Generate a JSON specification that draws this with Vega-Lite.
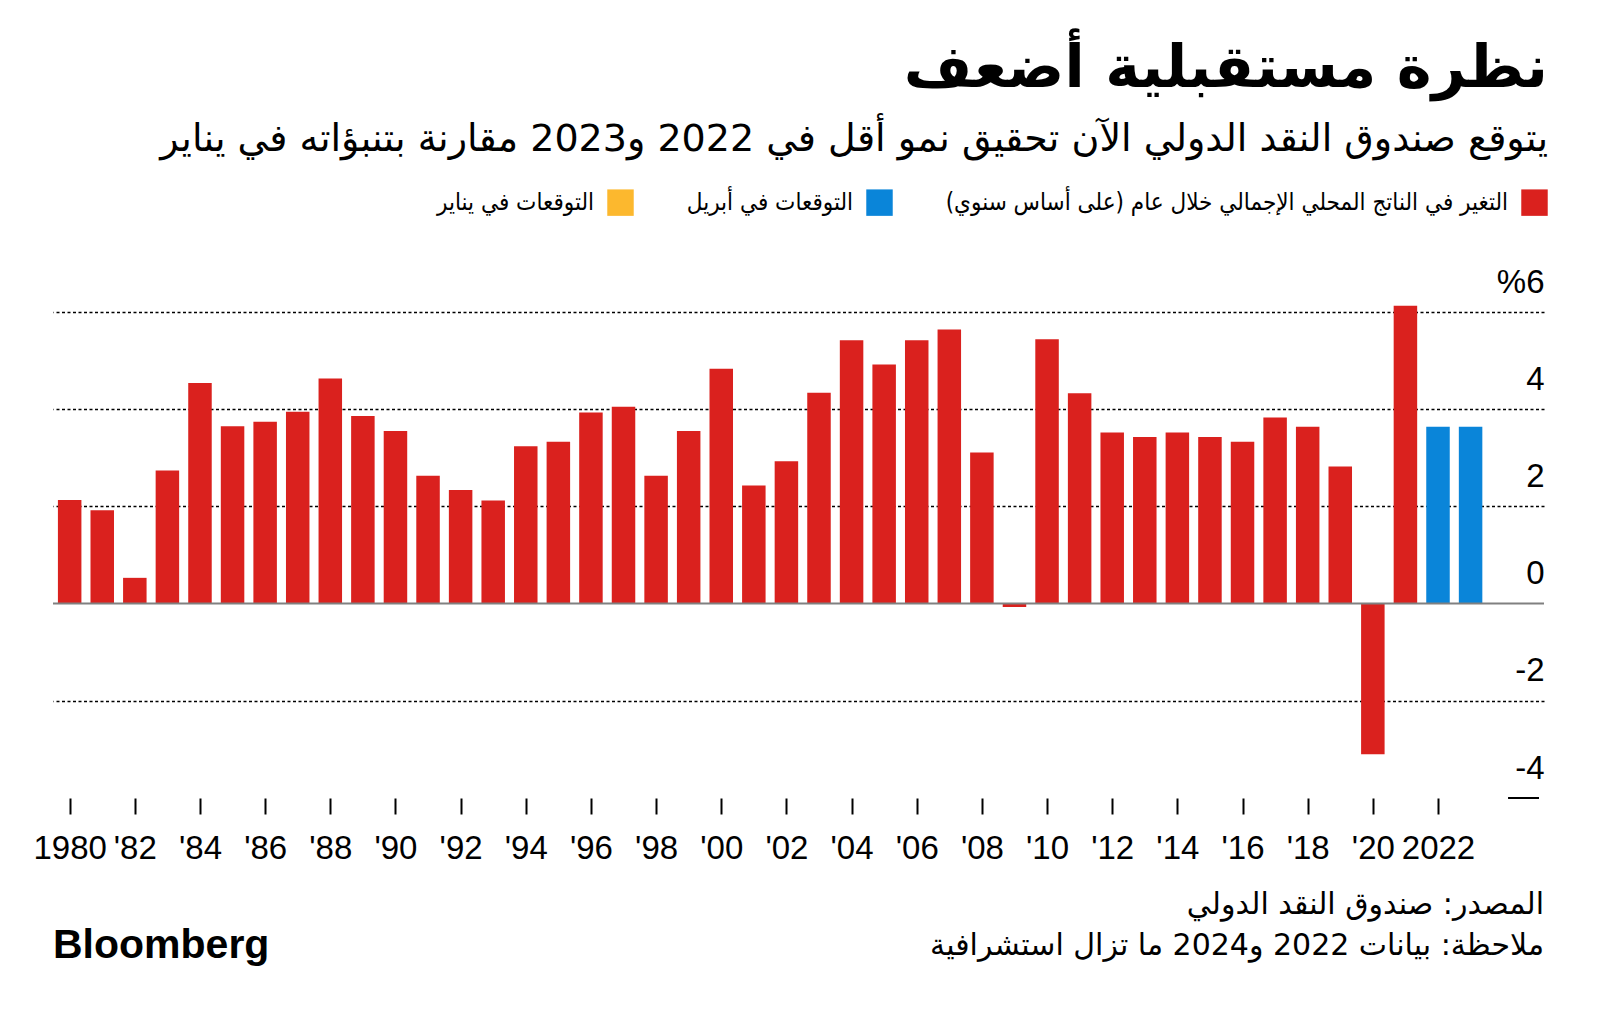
{
  "$schema": "https://vega.github.io/schema/vega-lite/v6.json",
  "background": "white",
  "padding": {"left": 32, "right": 40, "top": 40, "bottom": 10},
  "config": {"view": {"stroke": null}, "font": "Liberation Sans"},
  "title": {
    "text": "‏نظرة مستقبلية أضعف‏",
    "subtitle": "‏يتوقع صندوق النقد الدولي الآن تحقيق نمو أقل في 2022 و2023 مقارنة بتنبؤاته في يناير‏",
    "anchor": "end",
    "font": "DejaVu Sans",
    "fontSize": 59,
    "fontWeight": "bold",
    "color": "#000000",
    "subtitleFont": "DejaVu Sans",
    "subtitleFontSize": 38,
    "subtitleColor": "#000000",
    "subtitlePadding": 22,
    "offset": 30
  },
  "spacing": 25,
  "vconcat": [
    {
      "width": 1491,
      "height": 486,
      "data": {"values": [
        {"year": 1980, "value": 2.13, "s": "gdp"},
        {"year": 1981, "value": 1.92, "s": "gdp"},
        {"year": 1982, "value": 0.53, "s": "gdp"},
        {"year": 1983, "value": 2.74, "s": "gdp"},
        {"year": 1984, "value": 4.54, "s": "gdp"},
        {"year": 1985, "value": 3.65, "s": "gdp"},
        {"year": 1986, "value": 3.74, "s": "gdp"},
        {"year": 1987, "value": 3.95, "s": "gdp"},
        {"year": 1988, "value": 4.63, "s": "gdp"},
        {"year": 1989, "value": 3.86, "s": "gdp"},
        {"year": 1990, "value": 3.55, "s": "gdp"},
        {"year": 1991, "value": 2.63, "s": "gdp"},
        {"year": 1992, "value": 2.34, "s": "gdp"},
        {"year": 1993, "value": 2.12, "s": "gdp"},
        {"year": 1994, "value": 3.24, "s": "gdp"},
        {"year": 1995, "value": 3.33, "s": "gdp"},
        {"year": 1996, "value": 3.93, "s": "gdp"},
        {"year": 1997, "value": 4.05, "s": "gdp"},
        {"year": 1998, "value": 2.63, "s": "gdp"},
        {"year": 1999, "value": 3.55, "s": "gdp"},
        {"year": 2000, "value": 4.83, "s": "gdp"},
        {"year": 2001, "value": 2.43, "s": "gdp"},
        {"year": 2002, "value": 2.93, "s": "gdp"},
        {"year": 2003, "value": 4.34, "s": "gdp"},
        {"year": 2004, "value": 5.42, "s": "gdp"},
        {"year": 2005, "value": 4.92, "s": "gdp"},
        {"year": 2006, "value": 5.42, "s": "gdp"},
        {"year": 2007, "value": 5.64, "s": "gdp"},
        {"year": 2008, "value": 3.11, "s": "gdp"},
        {"year": 2009, "value": -0.07, "s": "gdp"},
        {"year": 2010, "value": 5.44, "s": "gdp"},
        {"year": 2011, "value": 4.33, "s": "gdp"},
        {"year": 2012, "value": 3.52, "s": "gdp"},
        {"year": 2013, "value": 3.43, "s": "gdp"},
        {"year": 2014, "value": 3.52, "s": "gdp"},
        {"year": 2015, "value": 3.43, "s": "gdp"},
        {"year": 2016, "value": 3.33, "s": "gdp"},
        {"year": 2017, "value": 3.83, "s": "gdp"},
        {"year": 2018, "value": 3.64, "s": "gdp"},
        {"year": 2019, "value": 2.82, "s": "gdp"},
        {"year": 2020, "value": -3.1, "s": "gdp"},
        {"year": 2021, "value": 6.13, "s": "gdp"},
        {"year": 2022, "value": 3.64, "s": "apr"},
        {"year": 2023, "value": 3.64, "s": "apr"}
      ]},
      "layer": [
        {
          "mark": {"type": "bar", "size": 23.5},
          "encoding": {
            "x": {
              "field": "year", "type": "quantitative",
              "scale": {"domain": [1979.642, 2025.1], "nice": false, "zero": false},
              "axis": {
                "values": [1980, 1982, 1984, 1986, 1988, 1990, 1992, 1994, 1996, 1998, 2000, 2002, 2004, 2006, 2008, 2010, 2012, 2014, 2016, 2018, 2020, 2022],
                "grid": false, "domain": false, "ticks": true,
                "tickSize": 16, "tickWidth": 2, "tickColor": "#000000",
                "labelFont": "Liberation Sans", "labelFontSize": 33, "labelColor": "#000000",
                "labelPadding": 18, "labelFlush": false, "labelOverlap": false, "labelBound": false,
                "labelExpr": "(datum.value == 1980 || datum.value == 2022) ? format(datum.value, 'd') : \"'\" + slice(format(datum.value, 'd'), 2)",
                "title": null
              }
            },
            "y": {
              "field": "value", "type": "quantitative",
              "scale": {"domain": [-4, 6], "nice": false},
              "axis": {
                "orient": "right",
                "values": [-4, -2, 0, 2, 4, 6],
                "grid": true, "ticks": false, "domain": false,
                "gridColor": "#000000", "gridDash": [3, 2.5], "gridWidth": 1.5,
                "gridOpacity": {"condition": {"test": "datum.value === 0 || datum.value === -4", "value": 0}, "value": 1},
                "labelAlign": "right", "labelPadding": 0, "labelBaseline": "alphabetic", "labelOffset": -20,
                "labelFont": "Liberation Sans", "labelFontSize": 33, "labelColor": "#000000",
                "labelExpr": "datum.value == 6 ? '%6' : '' + datum.value",
                "title": null
              }
            },
            "color": {
              "field": "s", "type": "nominal",
              "scale": {"domain": ["jan", "apr", "gdp"], "range": ["#fcb82e", "#0a85d9", "#da211e"]},
              "legend": {
                "orient": "none", "legendX": 554, "legendY": -123,
                "direction": "horizontal", "columns": 3,
                "title": null,
                "symbolType": "square", "symbolSize": 700, "symbolStrokeWidth": 0, "symbolOpacity": 1,
                "labelFont": "DejaVu Sans Condensed", "labelFontSize": 24, "labelColor": "#000000",
                "labelLimit": 900, "labelAlign": "right", "labelOffset": -40,
                "columnPadding": 52,
                "labelExpr": "datum.value == 'gdp' ? '‏التغير في الناتج المحلي الإجمالي خلال عام (على أساس سنوي)‏' : (datum.value == 'apr' ? '‏التوقعات في أبريل‏' : '‏التوقعات في يناير‏')"
              }
            }
          }
        },
        {
          "mark": {"type": "rule", "color": "#808080", "strokeWidth": 2},
          "data": {"values": [{}]},
          "encoding": {"y": {"datum": 0}}
        },
        {
          "mark": {"type": "rule", "color": "#000000", "strokeWidth": 2},
          "data": {"values": [{}]},
          "encoding": {"y": {"datum": -4}, "x": {"datum": 2024.15}, "x2": {"datum": 2025.1}}
        }
      ]
    },
    {
      "width": 1491,
      "height": 41,
      "data": {"values": [
        {"t": "Bloomberg", "side": "L", "line": "2"},
        {"t": "‏المصدر: صندوق النقد الدولي‏", "side": "R", "line": "1"},
        {"t": "‏ملاحظة: بيانات 2022 و2024 ما تزال استشرافية‏", "side": "R", "line": "2"}
      ]},
      "encoding": {
        "x": {"field": "side", "type": "nominal", "scale": {"type": "point", "domain": ["L", "R"], "padding": 0}, "axis": null},
        "y": {"field": "line", "type": "nominal", "scale": {"type": "point", "domain": ["1", "2"], "padding": 0}, "axis": null},
        "text": {"field": "t"}
      },
      "layer": [
        {
          "transform": [{"filter": "datum.side == 'R'"}],
          "mark": {"type": "text", "align": "right", "baseline": "middle", "font": "DejaVu Sans", "fontSize": 30, "color": "#000000"}
        },
        {
          "transform": [{"filter": "datum.side == 'L'"}],
          "mark": {"type": "text", "align": "left", "baseline": "middle", "font": "Liberation Sans", "fontWeight": "bold", "fontSize": 41, "letterSpacing": -1.5, "color": "#000000"}
        }
      ]
    }
  ]
}
